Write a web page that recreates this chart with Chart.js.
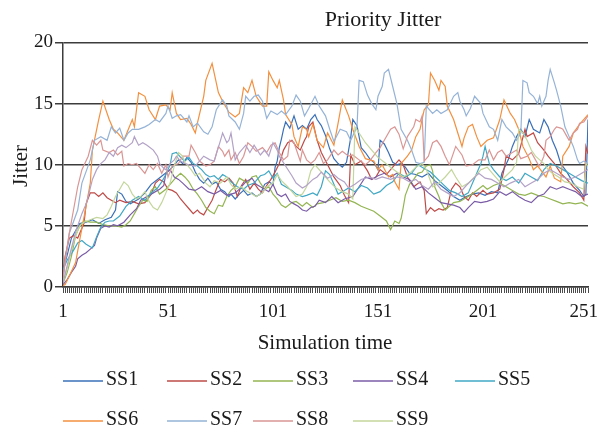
<!DOCTYPE html>
<html>
<head>
<meta charset="utf-8">
<title>Priority Jitter</title>
<script src="https://cdn.jsdelivr.net/npm/chart.js@4"></script>
<style>
	body { margin: 0; background: #fff; }
	canvas { display: block; }
</style>
</head>
<body>
<canvas id="jitterChart" width="598" height="430"></canvas>
<script>
"use strict";

// [simulation time, jitter]
const ss1 = [[1,1.4],[3,2.6],[5,4.0],[7,4.6],[9,5.2],[12,5.3],[15,5.5],[18,5.2],[21,5.5],[24,5.7],[26,6.3],[27,7.8],[29,7.6],[31,7.0],[33,6.8],[35,7.0],[37,7.2],[40,7.7],[43,8.4],[46,8.8],[49,9.2],[52,9.6],[54,10.0],[56,10.4],[58,10.1],[60,10.6],[62,10.2],[64,9.4],[66,8.8],[68,8.5],[70,8.9],[72,8.4],[74,8.6],[76,8.0],[78,7.8],[80,7.4],[81,7.6],[83,7.2],[85,7.6],[87,7.9],[89,7.5],[91,7.7],[93,7.4],[95,7.6],[97,8.4],[99,8.6],[101,8.4],[102,9.8],[103,10.3],[104,11.4],[105,12.1],[106,12.9],[107,13.5],[109,13.0],[111,14.0],[113,12.9],[115,13.2],[117,12.9],[119,13.7],[121,14.1],[122,13.7],[124,13.2],[126,12.4],[128,11.3],[130,10.5],[132,10.1],[134,9.8],[136,10.2],[138,12.2],[139,13.7],[141,13.2],[143,11.4],[145,11.0],[147,10.5],[149,10.2],[151,9.6],[152,12.0],[154,11.7],[156,11.0],[158,10.2],[160,10.0],[162,10.1],[164,9.8],[166,9.3],[169,9.2],[172,9.0],[175,9.3],[178,8.7],[181,8.3],[184,7.9],[187,7.4],[190,7.1],[193,7.4],[196,7.6],[199,7.7],[202,7.5],[205,7.8],[208,7.7],[210,9.3],[213,10.4],[215,11.5],[217,12.3],[219,12.9],[221,12.3],[223,13.7],[225,12.9],[228,12.6],[230,13.7],[232,13.1],[234,12.0],[236,11.2],[238,10.1],[241,9.4],[244,8.5],[247,7.9],[249,7.4],[250,7.6],[251,13.7]];

const ss2 = [[1,0.8],[2,2.5],[4,4.0],[6,4.2],[8,4.0],[10,4.8],[11,5.2],[12,6.8],[14,7.7],[16,7.7],[18,7.4],[20,7.7],[22,7.3],[24,7.1],[26,6.9],[28,7.1],[31,6.9],[34,7.0],[37,6.8],[40,6.9],[43,7.6],[45,8.5],[47,8.8],[49,8.6],[51,8.0],[53,7.9],[55,7.7],[57,7.2],[59,6.8],[61,6.4],[63,6.0],[65,6.3],[66,6.1],[68,5.9],[70,6.5],[72,7.1],[74,8.0],[76,8.8],[78,8.6],[80,8.9],[82,8.5],[84,7.4],[86,8.3],[88,8.8],[90,8.0],[92,8.5],[94,8.0],[96,7.7],[98,8.3],[100,8.8],[102,9.4],[104,10.1],[106,11.2],[108,11.8],[110,12.0],[112,11.5],[114,11.2],[116,12.0],[117,12.3],[118,13.1],[120,13.5],[122,12.0],[124,11.0],[127,10.0],[130,9.0],[133,8.3],[135,7.5],[137,6.9],[138,10.8],[140,10.0],[143,10.3],[146,9.5],[148,8.8],[150,9.0],[152,9.6],[155,9.2],[158,9.8],[161,10.4],[163,10.0],[165,9.0],[168,8.2],[171,8.6],[173,7.9],[174,6.0],[176,6.5],[178,6.2],[180,6.4],[182,6.3],[184,6.5],[186,8.0],[188,8.5],[190,8.2],[192,7.4],[194,7.1],[196,7.7],[198,7.4],[201,7.9],[203,7.6],[206,7.7],[209,8.0],[211,9.6],[212,10.7],[215,10.4],[218,10.9],[221,12.9],[222,12.3],[225,12.6],[227,11.8],[230,11.2],[232,10.7],[235,10.1],[238,9.3],[241,8.8],[244,8.2],[247,7.7],[249,7.1],[250,11.5],[251,10.9]];

const ss3 = [[1,0.3],[3,1.2],[5,2.5],[7,4.2],[9,5.0],[11,5.4],[14,5.3],[17,5.3],[20,5.1],[23,5.0],[26,5.0],[29,4.9],[31,5.1],[33,5.4],[35,6.0],[37,6.6],[39,7.1],[41,7.0],[43,7.9],[45,8.2],[47,7.6],[50,8.0],[53,8.6],[55,9.0],[57,9.3],[59,9.0],[61,8.6],[63,8.0],[65,7.6],[67,7.1],[69,6.5],[71,6.2],[73,6.0],[75,6.7],[77,6.6],[79,7.4],[81,7.9],[83,8.2],[85,8.9],[87,8.7],[89,8.5],[91,9.0],[93,9.1],[95,8.5],[97,8.0],[99,8.2],[101,7.6],[103,7.2],[105,6.7],[107,6.5],[110,6.9],[112,7.0],[115,6.6],[117,6.9],[120,6.5],[122,6.8],[125,6.9],[128,7.1],[131,7.3],[134,7.0],[137,7.1],[140,6.9],[143,6.6],[146,6.4],[149,6.2],[152,5.8],[155,5.4],[157,4.7],[159,5.4],[161,5.2],[162,5.6],[163,6.5],[164,7.5],[166,8.4],[168,8.8],[170,9.3],[172,9.4],[174,9.9],[176,10.0],[177,9.5],[178,8.2],[180,7.4],[181,6.9],[183,6.3],[185,6.6],[187,6.9],[190,7.0],[193,7.3],[195,7.5],[198,7.9],[201,8.3],[203,8.0],[206,8.3],[209,8.5],[212,8.2],[215,7.9],[218,7.6],[221,7.5],[224,7.7],[227,7.5],[230,7.4],[233,7.2],[236,7.0],[239,6.8],[242,6.9],[245,6.8],[248,6.9],[251,6.6]];

const ss4 = [[1,0.2],[3,0.6],[5,1.2],[7,1.7],[8,2.3],[10,2.6],[12,2.8],[14,3.1],[16,3.4],[17,4.0],[19,4.8],[21,5.0],[23,4.9],[25,5.1],[27,5.0],[30,5.3],[33,5.9],[36,6.4],[38,7.1],[41,7.4],[44,7.7],[47,8.0],[49,8.3],[50,9.3],[52,9.6],[54,9.0],[56,8.8],[58,8.5],[61,8.0],[64,7.9],[67,8.2],[70,7.8],[73,7.6],[76,7.9],[79,7.5],[81,7.6],[83,7.7],[85,8.0],[88,8.6],[91,8.9],[93,8.4],[96,8.1],[99,7.8],[101,8.4],[103,7.6],[105,7.4],[107,7.6],[109,7.0],[111,6.8],[113,6.6],[115,6.3],[117,6.2],[119,6.5],[121,6.6],[123,7.1],[126,6.9],[129,7.4],[132,6.9],[135,7.2],[139,7.4],[142,8.2],[145,9.0],[148,8.8],[151,9.1],[154,9.3],[157,9.0],[160,9.3],[163,9.0],[166,8.8],[169,8.0],[172,8.2],[175,7.7],[178,7.3],[181,6.9],[184,6.8],[187,6.7],[190,6.5],[192,6.1],[194,6.5],[197,7.0],[200,6.9],[203,7.0],[206,7.2],[209,7.8],[212,7.5],[215,7.8],[218,7.4],[221,7.1],[224,6.9],[227,7.4],[230,7.6],[233,8.2],[236,8.0],[239,8.2],[242,8.0],[245,7.8],[248,7.4],[251,7.6]];

const ss5 = [[1,1.4],[3,2.2],[6,3.0],[8,3.6],[10,3.8],[12,3.5],[14,3.3],[15,3.2],[17,4.1],[19,4.9],[21,5.3],[23,5.4],[25,5.4],[28,5.8],[31,6.6],[34,7.1],[37,7.4],[40,7.1],[43,7.7],[46,8.1],[48,8.6],[50,9.2],[52,10.0],[53,10.9],[55,11.0],[57,10.6],[59,10.3],[61,10.6],[63,10.1],[65,9.9],[67,9.6],[69,9.2],[71,9.0],[73,9.1],[75,8.8],[77,9.2],[79,9.0],[81,8.6],[84,8.2],[87,8.0],[89,8.3],[92,8.5],[95,9.1],[97,9.2],[99,9.5],[101,8.9],[103,9.3],[105,8.4],[107,8.2],[110,7.9],[112,7.6],[115,7.4],[117,7.5],[120,7.7],[122,7.5],[124,8.2],[126,9.5],[128,9.2],[130,8.4],[132,7.6],[135,7.9],[137,8.1],[140,7.8],[143,8.3],[146,8.1],[149,7.6],[152,7.8],[155,8.3],[158,8.6],[161,9.3],[164,9.0],[167,9.3],[170,10.0],[173,9.7],[176,9.4],[179,8.9],[182,8.4],[185,7.9],[188,7.7],[191,7.4],[194,7.7],[197,8.9],[200,10.1],[201,10.7],[202,11.5],[204,10.1],[206,9.6],[209,9.0],[212,8.7],[215,9.0],[218,8.5],[221,9.3],[224,9.0],[227,8.7],[230,9.6],[233,10.1],[236,9.9],[239,9.6],[242,9.3],[245,9.0],[248,8.7],[251,8.5]];

const ss6 = [[1,0.1],[2,0.2],[4,0.9],[7,2.0],[9,3.9],[11,5.7],[14,8.5],[15,11.2],[18,13.7],[20,15.2],[23,13.7],[25,12.9],[27,12.6],[30,12.0],[34,13.7],[35,13.1],[37,15.9],[40,15.6],[42,14.5],[45,13.7],[47,14.8],[50,14.9],[52,14.5],[53,15.9],[55,14.2],[57,13.7],[60,13.8],[62,13.3],[64,12.6],[65,13.4],[68,15.6],[69,16.9],[72,18.3],[73,17.5],[75,15.9],[77,15.2],[80,14.3],[83,13.9],[85,14.2],[87,16.3],[89,15.9],[91,16.9],[93,15.6],[96,14.8],[98,14.8],[99,17.6],[101,16.9],[103,16.3],[104,16.9],[106,15.3],[107,14.1],[110,13.3],[111,12.3],[113,11.5],[115,13.1],[117,12.9],[118,12.3],[120,13.3],[122,12.0],[125,11.4],[127,12.6],[130,11.6],[132,13.4],[134,15.3],[137,14.0],[139,12.9],[142,11.5],[145,10.5],[149,10.3],[151,9.6],[153,10.0],[156,9.0],[158,9.2],[159,8.6],[161,8.0],[162,10.1],[165,10.7],[167,11.2],[169,12.3],[171,12.9],[173,14.5],[175,14.9],[176,17.5],[178,16.9],[180,16.1],[181,16.9],[183,16.4],[184,14.8],[187,13.7],[189,12.6],[191,11.5],[192,12.2],[194,13.1],[196,13.3],[198,12.3],[200,11.5],[203,12.0],[206,12.2],[209,13.7],[211,15.3],[214,14.2],[216,13.7],[218,12.9],[220,11.5],[223,10.5],[225,9.6],[227,9.9],[231,9.0],[233,9.9],[235,8.9],[238,8.6],[239,10.7],[242,11.5],[244,12.6],[247,13.3],[251,14.1]];

const ss7 = [[1,0.5],[2,2.0],[4,4.4],[8,6.3],[10,8.5],[14,10.4],[16,12.0],[19,12.3],[22,12.0],[24,13.1],[26,12.6],[28,13.0],[30,12.0],[32,12.6],[34,12.9],[37,12.9],[40,13.1],[42,13.3],[45,13.7],[47,13.5],[50,14.2],[51,14.8],[53,13.8],[55,14.0],[57,14.1],[60,13.5],[61,14.0],[63,13.1],[65,13.4],[68,12.7],[70,12.5],[72,13.1],[74,14.5],[77,15.3],[79,14.8],[80,14.0],[83,13.5],[85,12.9],[87,14.2],[88,15.6],[90,15.2],[92,15.6],[94,15.7],[96,15.2],[98,13.8],[100,14.4],[103,14.1],[105,14.4],[107,14.1],[110,14.8],[112,15.7],[114,15.2],[116,14.0],[118,14.6],[121,15.6],[123,14.8],[126,14.0],[128,12.9],[130,11.9],[133,12.9],[136,12.7],[138,12.0],[141,13.1],[142,16.9],[144,16.8],[146,15.7],[148,15.0],[150,14.5],[151,15.6],[153,16.4],[154,17.5],[156,17.8],[158,16.4],[160,15.0],[162,12.9],[165,12.0],[167,11.2],[169,10.2],[171,10.1],[173,10.2],[174,14.8],[177,14.2],[179,14.5],[181,14.2],[184,14.5],[187,15.6],[189,15.9],[190,15.2],[192,14.5],[193,14.0],[195,14.6],[197,15.6],[200,15.0],[201,14.2],[204,13.1],[206,12.9],[208,12.0],[210,13.7],[212,13.1],[215,12.6],[217,12.0],[219,12.6],[220,16.9],[222,16.7],[223,15.9],[225,15.6],[227,15.0],[228,15.6],[229,14.8],[231,15.6],[232,16.9],[233,17.8],[235,16.7],[236,16.1],[238,14.8],[240,13.1],[242,12.3],[244,11.5],[246,10.4],[247,10.1],[249,10.3],[251,10.1]];

const ss8 = [[1,0.6],[2,2.2],[4,4.4],[6,6.3],[8,8.2],[10,9.6],[13,10.7],[15,12.0],[17,11.6],[19,12.0],[20,11.2],[23,11.0],[25,11.2],[27,10.8],[29,11.1],[30,9.9],[32,10.1],[34,10.0],[36,10.1],[38,9.7],[40,9.3],[42,10.0],[44,9.6],[46,10.1],[48,9.3],[50,10.0],[51,9.0],[53,9.9],[56,10.1],[58,10.7],[61,10.7],[62,11.6],[64,11.0],[66,10.3],[69,9.9],[71,10.0],[73,10.3],[75,11.5],[77,11.1],[78,10.7],[80,11.2],[81,10.4],[83,11.0],[85,10.1],[87,10.7],[89,11.8],[91,11.5],[93,11.1],[96,11.4],[98,11.0],[100,11.6],[102,11.8],[104,11.0],[106,10.4],[108,10.7],[109,12.0],[111,11.8],[114,10.3],[115,11.2],[117,10.4],[119,10.1],[121,10.4],[123,11.0],[125,10.1],[127,10.4],[130,11.2],[132,10.8],[134,11.1],[137,10.7],[139,10.8],[142,10.4],[145,10.0],[147,10.3],[150,11.0],[152,11.4],[154,12.0],[157,12.9],[159,13.1],[161,12.5],[163,11.3],[165,12.3],[168,13.1],[169,13.7],[171,13.5],[172,14.0],[173,10.3],[175,10.7],[177,11.8],[179,12.0],[181,11.5],[183,10.7],[185,10.0],[188,11.5],[191,10.8],[193,9.9],[196,10.0],[199,10.4],[202,10.4],[204,11.2],[206,10.4],[208,11.0],[210,11.2],[212,10.7],[215,11.0],[217,11.2],[219,10.5],[222,10.7],[224,11.0],[227,10.1],[228,9.9],[230,10.7],[231,12.0],[233,12.3],[235,12.9],[236,13.1],[238,13.0],[239,12.9],[241,12.3],[242,12.0],[244,12.6],[246,12.9],[247,13.4],[249,13.5],[251,14.0]];

const ss9 = [[1,0.4],[3,1.5],[5,3.0],[7,4.2],[9,5.0],[11,5.3],[14,5.5],[17,5.7],[20,5.6],[22,5.9],[24,6.6],[26,7.4],[28,8.0],[30,8.6],[32,8.3],[34,7.6],[36,7.2],[38,7.4],[40,7.8],[42,7.0],[44,6.5],[46,6.3],[48,6.9],[50,7.7],[52,8.5],[54,9.9],[56,11.0],[58,10.7],[59,10.2],[62,9.6],[64,9.1],[66,9.3],[69,8.5],[71,8.2],[73,8.7],[76,8.5],[79,9.0],[81,8.4],[83,8.0],[86,8.2],[88,7.9],[91,7.6],[93,7.4],[96,7.7],[98,8.2],[101,8.5],[103,9.2],[105,8.7],[108,8.2],[110,7.8],[112,7.4],[115,7.6],[117,8.2],[119,9.5],[121,10.0],[123,9.6],[125,9.2],[128,8.6],[131,8.1],[134,7.8],[137,7.6],[139,7.2],[140,13.1],[142,12.6],[145,11.8],[148,11.2],[151,10.6],[154,10.2],[157,9.8],[160,9.4],[163,9.0],[166,9.3],[169,9.8],[172,10.1],[174,9.6],[177,8.2],[180,8.5],[183,9.0],[186,9.6],[188,9.0],[191,8.2],[194,8.5],[197,9.0],[200,9.6],[203,9.8],[206,9.2],[209,8.6],[212,9.1],[215,9.6],[217,10.2],[218,12.9],[220,12.6],[222,12.0],[224,11.2],[226,10.7],[228,10.4],[230,10.1],[232,9.6],[234,9.3],[237,9.0],[240,8.6],[243,8.5],[246,8.2],[249,8.0],[250,10.1],[251,9.9]];

// lavender line that is drawn in the plot but has no legend entry
const ss10 = [[1,0.3],[4,2.5],[7,4.5],[10,6.0],[12,6.8],[13,7.4],[15,8.8],[17,9.6],[19,10.1],[21,10.4],[23,11.0],[25,10.7],[27,11.4],[29,11.6],[31,11.4],[34,11.8],[35,12.3],[37,11.6],[39,11.8],[41,11.6],[44,11.2],[46,10.7],[47,10.1],[49,9.7],[50,9.6],[52,10.1],[54,10.4],[55,10.7],[57,10.3],[59,10.1],[61,10.0],[64,9.9],[66,10.3],[68,10.7],[71,10.4],[73,10.3],[76,12.0],[77,12.6],[79,11.8],[80,12.0],[81,12.6],[82,11.5],[83,10.4],[85,11.0],[88,11.6],[90,11.0],[92,11.6],[95,10.8],[97,11.2],[99,10.7],[101,11.8],[103,11.2],[104,10.7],[107,9.9],[110,9.1],[112,8.5],[115,8.1],[117,8.3],[120,8.8],[122,9.0],[124,9.4],[127,8.9],[130,9.2],[132,8.9],[135,8.6],[137,8.1],[140,8.4],[143,8.8],[147,9.0],[150,8.8],[153,9.0],[157,8.8],[160,9.0],[163,8.9],[166,8.6],[169,8.8],[172,8.3],[175,8.0],[178,8.6],[181,8.0],[184,7.7],[187,7.4],[190,7.7],[193,8.3],[196,8.8],[199,9.3],[202,8.9],[205,8.8],[208,8.5],[211,8.2],[214,8.5],[218,8.8],[221,8.2],[224,8.5],[227,8.8],[230,9.3],[233,9.6],[236,9.3],[239,9.0],[242,8.8],[245,9.0],[248,9.3],[251,9.6]];

const seriesData = [ss1, ss2, ss3, ss4, ss5, ss6, ss7, ss8, ss9, ss10];
const seriesNames = ["SS1", "SS2", "SS3", "SS4", "SS5", "SS6", "SS7", "SS8", "SS9", "SS10"];
const seriesColors = ["#3a70b8", "#be4b48", "#93b552", "#7a5ca6", "#40a8c4", "#f3903f", "#95b3d7", "#d99694", "#c3d69b", "#b3a2c7"];
const legendCount = 9;
const xLabels = [1, 51, 101, 151, 201, 251];

const serif = '"Liberation Serif", "Times New Roman", serif';
const inkColor = "#1a1a1a";
const gridColor = "#3c3c3c";
const tickFontSize = 19;

// titles and the two-row legend, placed like the original
const legendCols = [63, 167, 253, 353, 455];
const legendRows = [381, 421];

const textBits = {
	id: "textBits",
	afterDraw(chart) {
		const ctx = chart.ctx;
		const xScale = chart.scales.x;
		ctx.save();
		ctx.fillStyle = inkColor;
		ctx.textBaseline = "middle";
		ctx.textAlign = "center";

		ctx.font = "22px " + serif;
		ctx.fillText("Priority Jitter", 383, 20);

		ctx.font = "21px " + serif;
		ctx.fillText("Simulation time", 325, 343);

		ctx.save();
		ctx.translate(21, 166);
		ctx.rotate(-Math.PI / 2);
		ctx.fillText("Jitter", 0, 0);
		ctx.restore();

		// the last x label sits flush against the right edge, as in the original
		const lastLabel = xLabels[xLabels.length - 1];
		ctx.font = tickFontSize + "px " + serif;
		ctx.textAlign = "right";
		ctx.fillText(String(lastLabel), Math.min(xScale.getPixelForValue(lastLabel) + 16, chart.width), 312);

		ctx.font = "20px " + serif;
		ctx.textAlign = "left";
		for (let i = 0; i < legendCount; i++) {
			const x = legendCols[i % 5];
			const y = legendRows[Math.floor(i / 5)];
			ctx.strokeStyle = seriesColors[i];
			ctx.lineWidth = 1.5;
			ctx.beginPath();
			ctx.moveTo(x, y);
			ctx.lineTo(x + 40, y);
			ctx.stroke();
			ctx.fillText(seriesNames[i], x + 43, y - 1);
		}
		ctx.restore();
	}
};

const ctx = document.getElementById("jitterChart").getContext("2d");

const jitterChart = new Chart(ctx, {
	type: "line",
	data: {
		datasets: seriesData.map((points, i) => ({
			label: seriesNames[i],
			data: points.map(p => ({ x: p[0], y: p[1] })),
			borderColor: seriesColors[i],
			backgroundColor: seriesColors[i],
			borderWidth: 1.2,
			pointRadius: 0,
			tension: 0,
			fill: false,
			order: seriesData.length - i
		}))
	},
	options: {
		responsive: false,
		animation: false,
		layout: {
			padding: { top: 42.5, right: 10, bottom: 0, left: 0 }
		},
		plugins: {
			legend: { display: false },
			title: { display: false },
			tooltip: { enabled: false }
		},
		scales: {
			x: {
				type: "linear",
				min: 1,
				max: 251,
				grid: {
					drawOnChartArea: false,
					tickLength: 6,
					color: "#4a4a4a",
					lineWidth: 1
				},
				border: { color: gridColor, width: 1.5 },
				ticks: {
					stepSize: 1,
					maxTicksLimit: 300,
					autoSkip: false,
					maxRotation: 0,
					minRotation: 0,
					padding: 8,
					color: inkColor,
					font: { family: serif, size: tickFontSize },
					// 251 is drawn by the textBits plugin so it is not cut off
					callback: v => (xLabels.includes(v) && v !== xLabels[xLabels.length - 1]) ? String(v) : ""
				},
				afterFit(scale) {
					scale.height = 143;
					scale.paddingLeft = 0;
					scale.paddingRight = 0;
				}
			},
			y: {
				min: 0,
				max: 20,
				grid: {
					color: gridColor,
					lineWidth: 1.5,
					tickLength: 8
				},
				border: { color: gridColor, width: 1.5 },
				ticks: {
					stepSize: 5,
					padding: 2,
					color: inkColor,
					font: { family: serif, size: tickFontSize }
				},
				afterFit(scale) {
					scale.width = 63;
				}
			}
		}
	},
	plugins: [textBits]
});
</script>
</body>
</html>
